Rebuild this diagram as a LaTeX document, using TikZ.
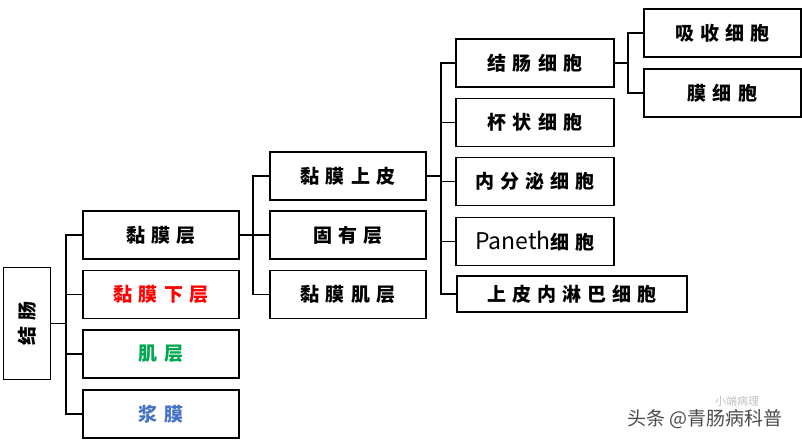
\documentclass[tikz,border=0pt]{standalone}
\usepackage{fontspec}
\usepackage{graphicx}
\newfontfamily\cjk[LetterSpace=32]{Noto Sans CJK SC}
\newfontfamily\cjkplain{Noto Sans CJK SC}
\usetikzlibrary{positioning}
\definecolor{subred}{RGB}{255,0,0}
\definecolor{musgreen}{RGB}{0,168,80}
\definecolor{serblue}{RGB}{68,114,196}
\tikzset{
  box/.style={draw, line width=1.6pt, minimum width=156pt, minimum height=48pt, inner sep=0pt,
    font=\cjk\bfseries\fontsize{19pt}{19pt}\selectfont},
  link/.style={line width=1.6pt, line cap=rect},
}

\begin{document}
\begin{tikzpicture}[x=1pt, y=-1pt]
\useasboundingbox (0,0) rectangle (802,444);
% root
\node[box, minimum width=47pt, minimum height=112pt] (colon) at (27,323.5) {\rotatebox{90}{结肠}};
% layers of the wall
\node[box] (muc) at (161,235) {黏膜层};
\node[box, text=subred] (sub) at (161,294.5) {黏膜下层};
\node[box, text=musgreen] (mus) at (161,354) {肌层};
\node[box, text=serblue] (ser) at (161,414) {浆膜};
% parts of the mucosa
\node[box] (epi) at (348,176) {黏膜上皮};
\node[box] (lam) at (348,235) {固有层};
\node[box] (mm) at (348,294.5) {黏膜肌层};
% cells of the epithelium
\node[box, minimum width=158pt] (cc) at (535,63) {结肠细胞};
\node[box, minimum width=158pt] (gob) at (535,122.5) {杯状细胞};
\node[box, minimum width=158pt] (endo) at (535,181.5) {内分泌细胞};
\node[box, minimum width=158pt] (pan) at (535,241.5) {{\cjkplain\mdseries\fontsize{23pt}{23pt}\selectfont Paneth}细胞};
\node[box, minimum width=230pt, minimum height=36pt] (iel) at (572,294) {上皮内淋巴细胞};
% colonocytes
\node[box, minimum width=157pt] (abs) at (722.5,33) {吸收细胞};
\node[box, minimum width=157pt] (mcell) at (722.5,93) {膜细胞};

% connectors
\path (muc.west) ++(-16,0) coordinate (s1);
\draw[link] (colon.east) -- (colon.east -| s1);
\draw[link] (muc.west -| s1) -- (ser.west -| s1);
\foreach \n in {muc,sub,mus,ser} \draw[link] (\n.west) -- (\n.west -| s1);

\path (epi.west) ++(-16,0) coordinate (s2);
\draw[link] (muc.east) -- (muc.east -| s2);
\draw[link] (epi.west -| s2) -- (mm.west -| s2);
\foreach \n in {epi,lam,mm} \draw[link] (\n.west) -- (\n.west -| s2);

\path (cc.west) ++(-14,0) coordinate (s3);
\draw[link] (epi.east) -- (epi.east -| s3);
\draw[link] (cc.west -| s3) -- (iel.west -| s3);
\foreach \n in {cc,gob,endo,pan,iel} \draw[link] (\n.west) -- (\n.west -| s3);

\path (abs.west) ++(-15,0) coordinate (s4);
\draw[link] (cc.east) -- (cc.east -| s4);
\draw[link] (abs.west -| s4) -- (mcell.west -| s4);
\foreach \n in {abs,mcell} \draw[link] (\n.west) -- (\n.west -| s4);

% watermark
\node[text=black!25, font=\cjkplain\fontsize{11pt}{11pt}\selectfont, inner sep=1pt] (mark2) at (737,401) {小端病理};
\node[text=black!70, font=\cjkplain\fontsize{19pt}{19pt}\selectfont, inner sep=1pt] (mark) at (705,419) {头条 @青肠病科普};
\end{tikzpicture}
\end{document}
